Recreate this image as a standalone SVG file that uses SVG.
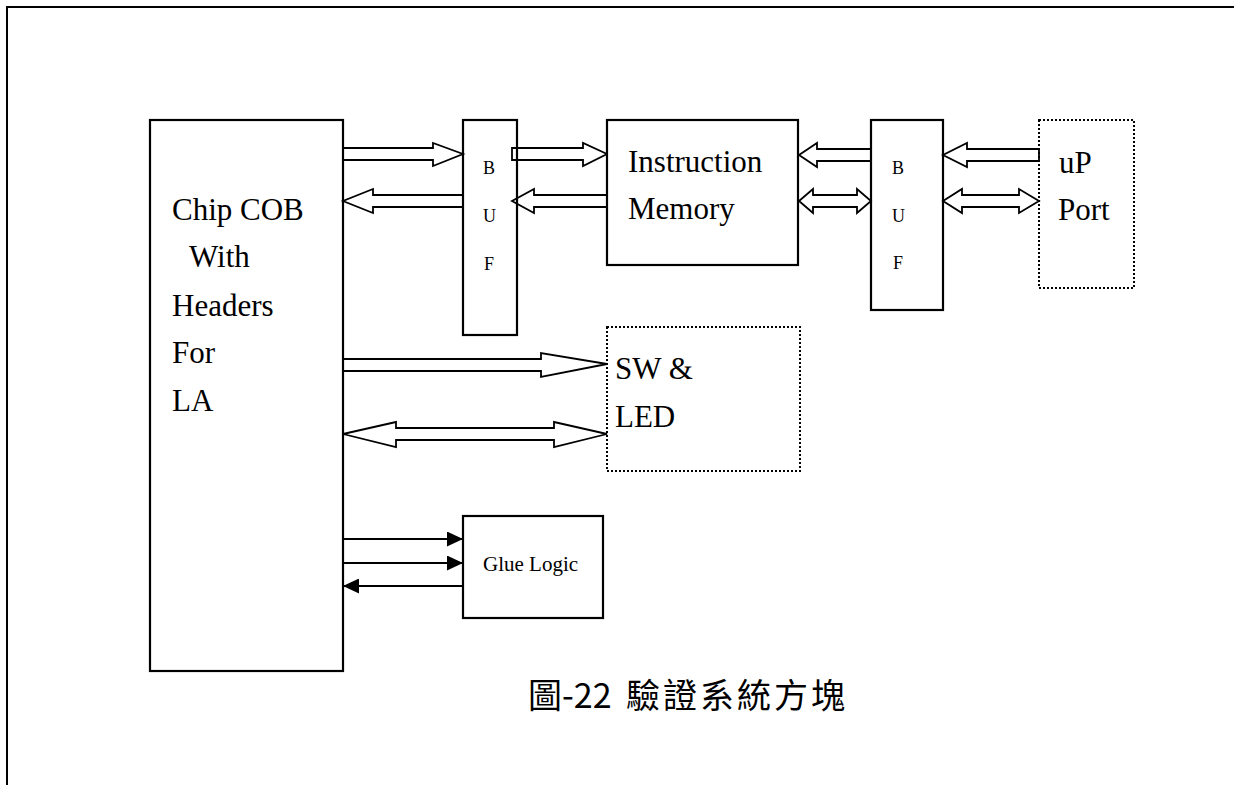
<svg xmlns="http://www.w3.org/2000/svg" width="1234" height="785" viewBox="0 0 1234 785">
<style>
.box{fill:#fff;stroke:#000;stroke-width:2.2}
.dot{fill:none;stroke:#000;stroke-width:2;stroke-dasharray:2 2}
.ba{fill:#fff;stroke:#000;stroke-width:1.8;stroke-linejoin:miter}
.ln{fill:none;stroke:#000;stroke-width:2}
.t{font-family:"Liberation Serif","Times New Roman",serif;fill:#000}
.big{font-size:31px}
.sm{font-size:18px}
.gl{font-size:21px}
.cap{font-family:"Noto Sans CJK TC","Noto Sans CJK SC",sans-serif;font-size:34px;fill:#000}
</style>
<defs>
<marker id="fh" viewBox="0 0 16 15" refX="16" refY="7.5" markerWidth="16" markerHeight="15" orient="auto" markerUnits="userSpaceOnUse">
<path d="M0,0 L16,7.5 L0,15 Z" fill="#000"/>
</marker>
</defs>
<rect width="1234" height="785" fill="#fff"/>
<g id="frame">
<path d="M7,785 V7 H1234" class="ln" stroke-width="2.2"/>
</g>
<g id="connectors">
<path class="ba" d="M343,148 H433 V143 L463,154 L433,166 V160 H343 Z"/>
<path class="ba" d="M463,195 H373 V189 L343,201 L373,213 V207 H463 Z"/>
<path class="ba" d="M512,148 H583 V143 L607,154 L583,166 V160 H512 Z"/>
<path class="ba" d="M607,195 H534 V189 L512,201 L534,213 V207 H607 Z"/>
<path class="ba" d="M871,149 H817 V143 L799,155 L817,167 V161 H871 Z"/>
<path class="ba" d="M813,195 H857 V189 L871,201 L857,213 V207 H813 V213 L799,201 L813,189 Z"/>
<path class="ba" d="M1039,149 H967 V143 L943,155 L967,167 V161 H1039 Z"/>
<path class="ba" d="M962,195 H1019 V189 L1039,201 L1019,213 V207 H962 V213 L943,201 L962,189 Z"/>
<path class="ba" d="M343,359 H541 V353 L607,364 L541,377 V371 H343 Z"/>
<path class="ba" d="M396,428 H554 V422 L607,434 L554,447 V440 H396 V447 L343,434 L396,422 Z"/>
<line class="ln" x1="343" y1="539" x2="463" y2="539" marker-end="url(#fh)"/>
<line class="ln" x1="343" y1="563" x2="463" y2="563" marker-end="url(#fh)"/>
<line class="ln" x1="463" y1="586" x2="343" y2="586" marker-end="url(#fh)"/>
</g>
<g id="chip">
<rect class="box" x="150" y="120" width="193" height="551" style="fill:none"/>
<text class="t big" x="172" y="220">Chip COB</text>
<text class="t big" x="189" y="267">With</text>
<text class="t big" x="172" y="316">Headers</text>
<text class="t big" x="172" y="363">For</text>
<text class="t big" x="172" y="411">LA</text>
</g>
<g id="buf1">
<rect class="box" x="463" y="120" width="54" height="215" style="fill:none"/>
<text class="t sm" x="483" y="174">B</text>
<text class="t sm" x="483" y="222">U</text>
<text class="t sm" x="484" y="270">F</text>
</g>
<g id="imem">
<rect class="box" x="607" y="120" width="191" height="145"/>
<text class="t big" x="628" y="172">Instruction</text>
<text class="t big" x="628" y="219">Memory</text>
</g>
<g id="buf2">
<rect class="box" x="871" y="120" width="72" height="190" style="fill:none"/>
<text class="t sm" x="892" y="174">B</text>
<text class="t sm" x="892" y="222">U</text>
<text class="t sm" x="893" y="269">F</text>
</g>
<g id="upport">
<rect class="dot" x="1039" y="120" width="95" height="168"/>
<text class="t big" x="1059" y="173">uP</text>
<text class="t big" x="1058" y="220">Port</text>
</g>
<g id="swled">
<rect class="dot" x="607" y="327" width="193" height="144"/>
<text class="t big" x="615" y="379">SW &amp;</text>
<text class="t big" x="615" y="427">LED</text>
</g>
<g id="glue">
<rect class="box" x="463" y="516" width="140" height="102"/>
<text class="t gl" x="483" y="571">Glue Logic</text>
</g>
<g id="caption">
<text class="cap" y="708"><tspan x="528">圖-22</tspan><tspan x="626" letter-spacing="3">驗證系統方塊</tspan></text>
</g>
</svg>
